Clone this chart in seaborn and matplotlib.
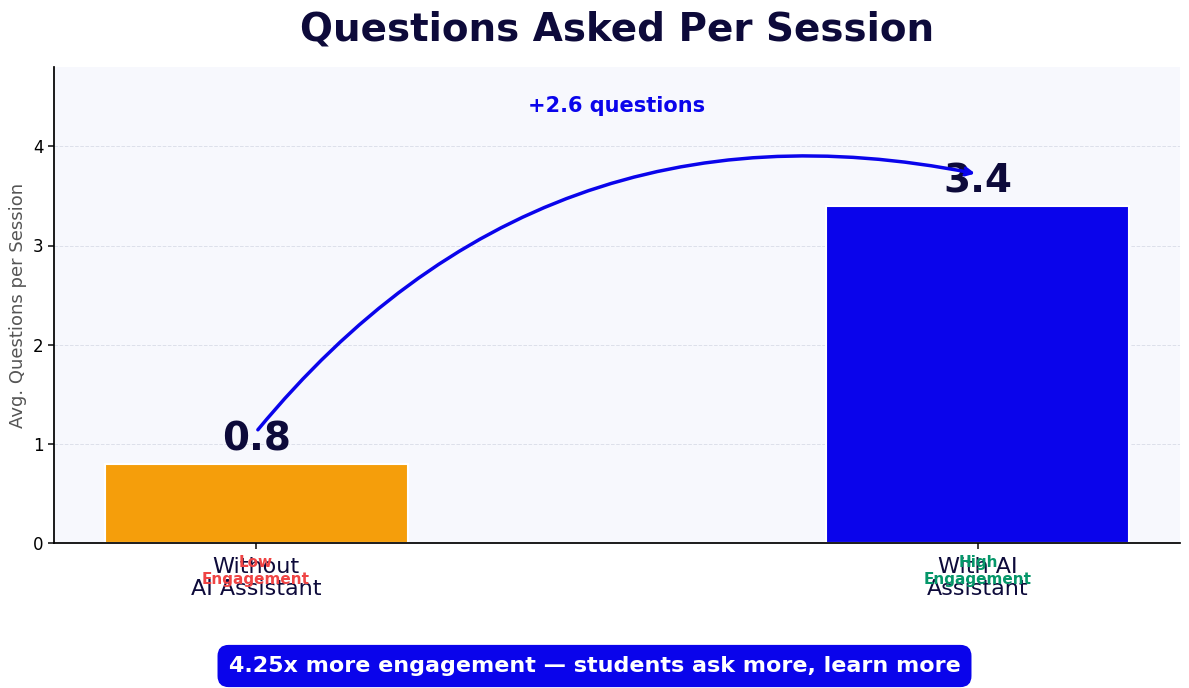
import matplotlib
matplotlib.use("Agg")
import matplotlib.pyplot as plt
import seaborn as sns
import pandas as pd

categories = ["Without\nAI Assistant", "With AI\nAssistant"]
values = [0.8, 3.4]
tags = ["Low\nEngagement", "High\nEngagement"]
tag_colors = ["#ef4444", "#059669"]
bar_colors = ["#f59e0b", "#0a04eb"]

sns.set_theme(style="white")
fig = plt.figure(figsize=(11.89, 6.88), dpi=100)
ax = fig.add_axes([54/1189, 1-543/688, 1126/1189, 476/688])
ax.set_facecolor("#f7f8fd")
df = pd.DataFrame({"cat": categories, "val": values})
sns.barplot(data=df, x="cat", y="val", hue="cat", palette=bar_colors, width=0.42,
            saturation=1, legend=False, ax=ax, edgecolor="white", linewidth=1.5)
ax.set_xlim(-0.28, 1.28)
ax.set_ylim(0, 4.8)
ax.set_yticks([0, 1, 2, 3, 4])
ax.grid(axis="y", color="#dde0ea", linestyle="--", linewidth=0.7)
ax.set_axisbelow(True)
for s in ["top", "right"]:
    ax.spines[s].set_visible(False)
ax.spines["left"].set_color("black"); ax.spines["bottom"].set_color("black")
ax.tick_params(axis="x", labelsize=16, labelcolor="#0d0a3a", length=4, bottom=True, pad=6)
ax.tick_params(axis="y", labelsize=12, labelcolor="black", length=4, left=True)
for lbl in ax.get_xticklabels():
    lbl.set_linespacing(1.15)
ax.set_xlabel("")
ax.set_ylabel("Avg. Questions per Session", fontsize=13, color="#555555")
for i, v in enumerate(values):
    ax.text(i, v + 0.05, f"{v}", ha="center", va="bottom", fontsize=28, fontweight="bold", color="#0d0a3a")
    ax.text(i, -0.12, tags[i], ha="center", va="top", fontsize=11, fontweight="bold",
            color=tag_colors[i], linespacing=1.2)
ax.annotate("", xy=(1, 3.72), xytext=(0, 1.12),
            arrowprops=dict(arrowstyle="->", color="#0a04eb", lw=2.5,
                            connectionstyle="arc3,rad=-0.3"))
ax.text(0.5, 4.41, "+2.6 questions", ha="center", va="center", fontsize=15,
        fontweight="bold", color="#0a04eb")
fig.text(617/1189, 1-29/688, "Questions Asked Per Session", ha="center", va="center",
         fontsize=28, fontweight="bold", color="#0d0a3a")
fig.text(0.5, 1-666/688, "4.25x more engagement — students ask more, learn more",
         ha="center", va="center", fontsize=16, fontweight="bold", color="white",
         bbox=dict(boxstyle="round,pad=0.5", fc="#0a04eb", ec="none"))
fig.savefig("out.png", dpi=100)
